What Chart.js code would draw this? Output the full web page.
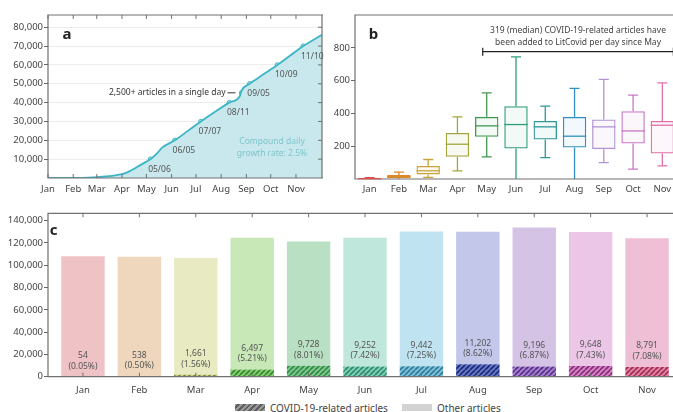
<!DOCTYPE html>
<html>
<head>
<meta charset="utf-8">
<script src="https://cdn.jsdelivr.net/npm/chart.js@4.4.1/dist/chart.umd.min.js"></script>
<style>
  html, body { margin: 0; padding: 0; background: #fff; }
  body { position: relative; width: 673px; height: 412px; overflow: hidden; font-family: 'Noto Sans', sans-serif; }
  canvas { position: absolute; }
  #graf1 { left: 0; top: 0; }
  #graf2 { left: 330px; top: 0; }
  #graf3 { left: 0; top: 200px; }
  .leg { position: absolute; top: 402px; font-size: 10px; color: #444; line-height: 12px; }
  .sw { position: absolute; top: 404px; width: 30px; height: 7px; }
</style>
</head>
<body>
<canvas id="graf1" width="330" height="200"></canvas>
<canvas id="graf2" width="347" height="200"></canvas>
<canvas id="graf3" width="673" height="200"></canvas>
<div class="sw" style="left:235px; background: repeating-linear-gradient(135deg, #9a9a9a 0 2px, #5e5e5e 2px 4px);"></div>
<div class="leg" style="left:270px;">COVID-19-related articles</div>
<div class="sw" style="left:402px; background:#d3d3d3;"></div>
<div class="leg" style="left:437px;">Other articles</div>

<script>
const MESES = ['Jan', 'Feb', 'Mar', 'Apr', 'May', 'Jun', 'Jul', 'Aug', 'Sep', 'Oct', 'Nov'];

// painel a - total acumulado (dia do ano 2020)
const INICIO_MES = [0, 31, 60, 91, 121, 152, 182, 213, 244, 274, 305];
const DIAS = [0, 31, 50, 60, 75, 91, 100, 110, 121, 126, 135, 140, 156, 172, 188, 205, 223, 236, 238, 248, 265, 282, 298, 314, 337];
const TOTAL = [0, 50, 200, 400, 1000, 2000, 3500, 6000, 8700, 10000, 13500, 16000, 20000, 25000, 30000, 35000, 40000, 43500, 46300, 50000, 55000, 60000, 65000, 70000, 76000];
const MARCO_DIAS = [126, 156, 188, 223, 238, 248, 282, 314];
const MARCO_TOTAL = [10000, 20000, 30000, 40000, 45200, 50000, 60000, 70000];
const MARCO_TXT = ['05/06', '06/05', '07/07', '08/11', '', '09/05', '10/09', '11/10'];
const TICKS_A = [10000, 20000, 30000, 40000, 50000, 60000, 70000, 80000];

// painel b - artigos por dia
const B_MIN = [0, 0, 10, 50, 135, 0, 130, 0, 100, 60, 80];
const B_Q1 = [1, 6, 28, 136, 257, 186, 241, 192, 182, 216, 155];
const B_MED = [2, 15, 50, 212, 324, 332, 318, 261, 318, 293, 328];
const B_Q3 = [4, 24, 80, 281, 379, 444, 354, 379, 363, 413, 354];
const B_MAX = [8, 42, 119, 379, 525, 745, 444, 552, 607, 511, 586];
const TICKS_B = [200, 400, 600, 800];
const COR_B = ['#d9534f', '#d98a2b', '#c9a33a', '#a4a63a', '#3f9a50', '#2f9e78', '#2f9898', '#3190c0', '#b294d2', '#c878c6', '#e070a8'];

// painel c - artigos por mes
const COVID = [54, 538, 1661, 6497, 9728, 9252, 9442, 11202, 9196, 9648, 8791];
const TOTAL_MES = [108000, 107600, 106500, 124700, 121400, 124700, 130200, 130000, 133900, 129900, 124200];
const PCT = ['(0.05%)', '(0.50%)', '(1.56%)', '(5.21%)', '(8.01%)', '(7.42%)', '(7.25%)', '(8.62%)', '(6.87%)', '(7.43%)', '(7.08%)'];
const TICKS_C = [0, 20000, 40000, 60000, 80000, 100000, 120000, 140000];
const COR_C = ['#efc2c6', '#eed7bc', '#e8ebc2', '#c8e8b8', '#bae0c3', '#c0e7db', '#c0e3f1', '#c3c7ea', '#d5c3e6', '#ecc6e6', '#efbfd5'];
const LISTRA_FUNDO = ['#e0a0a8', '#d8b080', '#c8cc80', '#8ccc70', '#80c890', '#80d0b8', '#80c0d8', '#6878c4', '#a484cc', '#d484c4', '#e284a6'];
const LISTRA_COR = ['#b04050', '#8a5a20', '#707a20', '#2f8a2f', '#2f8a45', '#2a8a6a', '#2a7a9a', '#1a2a7a', '#5a2a8a', '#8a2a7a', '#a02a50'];

const OUTROS = TOTAL_MES.map((t, i) => t - COVID[i]);

Chart.defaults.font.family = "'Noto Sans', sans-serif";
Chart.defaults.font.size = 9.5;
Chart.defaults.color = '#444';
Chart.defaults.devicePixelRatio = 1;

const moldura = {
  id: 'moldura',
  afterDatasetsDraw(chart, args, o) {
    const { ctx, chartArea: a, scales } = chart;
    ctx.save();
    ctx.strokeStyle = '#707070';
    ctx.lineWidth = 1.2;
    ctx.beginPath();
    ctx.moveTo(a.right + 1, a.top); ctx.lineTo(a.left, a.top);
    ctx.lineTo(a.left, a.bottom); ctx.lineTo(a.right + 1, a.bottom);
    if (o.direita) { ctx.moveTo(a.right, a.top); ctx.lineTo(a.right, a.bottom); }
    ctx.stroke();
    ctx.lineWidth = 1;
    ctx.beginPath();
    scales.x.ticks.forEach(t => {
      const px = scales.x.getPixelForValue(t.value);
      if (o.xTopo) { ctx.moveTo(px, a.top); ctx.lineTo(px, a.top + 4); }
      if (o.xBase) { ctx.moveTo(px, a.bottom); ctx.lineTo(px, a.bottom - 4); }
    });
    if (o.yDireita) {
      scales.y.ticks.forEach(t => {
        const py = scales.y.getPixelForValue(t.value);
        ctx.moveTo(a.right, py); ctx.lineTo(a.right - 4, py);
      });
    }
    ctx.stroke();
    ctx.restore();
  }
};

// ---------- painel a ----------
const notasA = {
  id: 'notasA',
  afterDatasetsDraw(chart) {
    const { ctx, scales: { x, y } } = chart;
    ctx.save();
    ctx.textAlign = 'center';
    ctx.textBaseline = 'middle';
    ctx.fillStyle = '#555';
    ctx.font = "8.5px 'Noto Sans', sans-serif";
    MARCO_TXT.forEach((t, i) => {
      if (!t) return;
      ctx.fillText(t, x.getPixelForValue(MARCO_DIAS[i]) + 9, y.getPixelForValue(MARCO_TOTAL[i]) + 10);
    });
    const sx = x.getPixelForValue(MARCO_DIAS[4]);
    const sy = y.getPixelForValue(MARCO_TOTAL[4]);
    ctx.textAlign = 'right';
    ctx.fillStyle = '#333';
    ctx.fillText('2,500+ articles in a single day', sx - 16, sy);
    ctx.strokeStyle = '#333';
    ctx.lineWidth = 1;
    ctx.beginPath(); ctx.moveTo(sx - 14, sy); ctx.lineTo(sx - 6, sy); ctx.stroke();
    ctx.textAlign = 'center';
    ctx.fillStyle = '#7fc6ce';
    ctx.fillText('Compound daily', 272, 142);
    ctx.fillText('growth rate: 2.5%', 272, 154);
    ctx.fillStyle = '#222';
    ctx.font = "bold 15px 'Noto Sans', sans-serif";
    ctx.fillText('a', 67, 35);
    ctx.restore();
  }
};

new Chart(document.getElementById('graf1'), {
  type: 'line',
  data: {
    datasets: [{
      data: DIAS.map((d, i) => ({ x: d, y: TOTAL[i] })),
      borderColor: '#3bb5c4',
      backgroundColor: '#c8e8ee',
      borderWidth: 1.8,
      fill: 'origin',
      pointRadius: 0,
      cubicInterpolationMode: 'monotone'
    }, {
      data: MARCO_DIAS.map((d, i) => ({ x: d, y: MARCO_TOTAL[i] })),
      showLine: false,
      pointRadius: 2.2,
      pointBorderWidth: 1,
      borderColor: '#3bb5c4',
      backgroundColor: '#c8e8ee'
    }]
  },
  options: {
    responsive: false,
    animation: false,
    layout: { padding: { top: 15, right: 8, left: 0, bottom: 0 } },
    plugins: { legend: { display: false }, tooltip: { enabled: false }, moldura: { direita: true, xTopo: true, xBase: true, yDireita: true } },
    scales: {
      x: {
        type: 'linear', min: 0, max: 337, offset: false,
        afterBuildTicks: s => { s.ticks = INICIO_MES.map(v => ({ value: v })); },
        afterFit: s => { s.height = 22; },
        ticks: { callback: (v, i) => MESES[i], autoSkip: false, maxRotation: 0, padding: 6 },
        grid: { display: false, drawTicks: false },
        border: { display: false }
      },
      y: {
        min: 0, max: 86500,
        afterBuildTicks: s => { s.ticks = TICKS_A.map(v => ({ value: v })); },
        afterFit: s => { s.width = 48; },
        ticks: { callback: v => v.toLocaleString('en-US'), padding: 1 },
        grid: { color: '#ececec', tickColor: '#666', tickLength: 4 },
        border: { display: false }
      }
    }
  },
  plugins: [moldura, notasA]
});

// ---------- painel b ----------
const caixas = {
  id: 'caixas',
  beforeDatasetsDraw(chart) {
    const { ctx, scales: { y } } = chart;
    const meta = chart.getDatasetMeta(0);
    ctx.save();
    ctx.lineWidth = 1.3;
    meta.data.forEach((el, i) => {
      ctx.strokeStyle = COR_B[i];
      const yMin = y.getPixelForValue(B_MIN[i]), yMax = y.getPixelForValue(B_MAX[i]);
      ctx.beginPath();
      ctx.moveTo(el.x, yMax); ctx.lineTo(el.x, y.getPixelForValue(B_Q3[i]));
      ctx.moveTo(el.x, y.getPixelForValue(B_Q1[i])); ctx.lineTo(el.x, yMin);
      ctx.moveTo(el.x - 5, yMax); ctx.lineTo(el.x + 5, yMax);
      if (B_MIN[i] > 0) { ctx.moveTo(el.x - 5, yMin); ctx.lineTo(el.x + 5, yMin); }
      ctx.stroke();
    });
    ctx.restore();
  },
  afterDatasetsDraw(chart) {
    const { ctx, scales: { x, y } } = chart;
    const meta = chart.getDatasetMeta(0);
    ctx.save();
    ctx.lineWidth = 1.3;
    meta.data.forEach((el, i) => {
      const py = y.getPixelForValue(B_MED[i]);
      ctx.strokeStyle = COR_B[i];
      ctx.beginPath(); ctx.moveTo(el.x - el.width / 2, py); ctx.lineTo(el.x + el.width / 2, py); ctx.stroke();
    });
    const x0 = x.getPixelForValue(4) - 4, x1 = x.getPixelForValue(10) + 11, yb = 51.7;
    ctx.strokeStyle = '#222';
    ctx.lineWidth = 1.2;
    ctx.beginPath();
    ctx.moveTo(x0, yb); ctx.lineTo(x1, yb);
    ctx.moveTo(x0, yb - 4); ctx.lineTo(x0, yb + 4);
    ctx.moveTo(x1, yb - 4); ctx.lineTo(x1, yb + 4);
    ctx.stroke();
    ctx.fillStyle = '#444';
    ctx.font = "8.5px 'Noto Sans', sans-serif";
    ctx.textAlign = 'center';
    ctx.textBaseline = 'middle';
    ctx.fillText('319 (median) COVID-19-related articles have', (x0 + x1) / 2, 31);
    ctx.fillText('been added to LitCovid per day since May', (x0 + x1) / 2, 42.5);
    ctx.fillStyle = '#222';
    ctx.font = "bold 15px 'Noto Sans', sans-serif";
    ctx.fillText('b', 43.5, 35);
    ctx.restore();
  }
};

new Chart(document.getElementById('graf2'), {
  type: 'bar',
  data: {
    labels: MESES,
    datasets: [{
      data: B_Q1.map((q, i) => [q, B_Q3[i]]),
      backgroundColor: COR_B.map(c => c + '10'),
      borderColor: COR_B,
      borderWidth: 1.3,
      borderSkipped: false,
      barPercentage: 0.8,
      categoryPercentage: 1
    }]
  },
  options: {
    responsive: false,
    animation: false,
    layout: { padding: { top: 15, right: 0, left: 0, bottom: 0 } },
    plugins: { legend: { display: false }, tooltip: { enabled: false }, moldura: {} },
    scales: {
      x: {
        afterFit: s => { s.height = 21; },
        ticks: { autoSkip: false, maxRotation: 0, padding: 5 },
        grid: { display: false, drawTicks: false },
        border: { display: false }
      },
      y: {
        min: 0, max: 1000,
        afterBuildTicks: s => { s.ticks = TICKS_B.map(v => ({ value: v })); },
        afterFit: s => { s.width = 25; },
        ticks: { padding: 1 },
        grid: { drawOnChartArea: false, tickColor: '#666', tickLength: 4 },
        border: { display: false }
      }
    }
  },
  plugins: [moldura, caixas]
});

// ---------- painel c ----------
function listras(fundo, cor) {
  const c = document.createElement('canvas');
  c.width = 5; c.height = 5;
  const g = c.getContext('2d');
  g.fillStyle = fundo;
  g.fillRect(0, 0, 5, 5);
  g.strokeStyle = cor;
  g.lineWidth = 1.6;
  g.beginPath();
  for (let k = -5; k <= 5; k += 5) { g.moveTo(k, 5); g.lineTo(k + 5, 0); }
  g.stroke();
  return g.createPattern(c, 'repeat');
}

const rotulosC = {
  id: 'rotulosC',
  afterDatasetsDraw(chart) {
    const { ctx } = chart;
    const meta = chart.getDatasetMeta(0);
    ctx.save();
    ctx.fillStyle = '#555';
    ctx.font = "8.5px 'Noto Sans', sans-serif";
    ctx.textAlign = 'center';
    ctx.textBaseline = 'middle';
    meta.data.forEach((el, i) => {
      ctx.fillText(COVID[i].toLocaleString('en-US'), el.x, el.y - 21);
      ctx.fillText(PCT[i], el.x, el.y - 10.5);
    });
    ctx.fillStyle = '#222';
    ctx.font = "bold 15px 'Noto Sans', sans-serif";
    ctx.fillText('c', 53.5, 31);
    ctx.restore();
  }
};

new Chart(document.getElementById('graf3'), {
  type: 'bar',
  data: {
    datasets: [{
      label: 'COVID-19-related articles',
      data: COVID.map((v, i) => ({ x: i, y: v })),
      backgroundColor: LISTRA_FUNDO.map((f, i) => listras(f, LISTRA_COR[i])),
      barPercentage: 0.77,
      categoryPercentage: 1
    }, {
      label: 'Other articles',
      data: OUTROS.map((v, i) => ({ x: i, y: v })),
      backgroundColor: COR_C,
      barPercentage: 0.77,
      categoryPercentage: 1
    }]
  },
  options: {
    responsive: false,
    animation: false,
    layout: { padding: { top: 13.3, right: 0, left: 0, bottom: 0 } },
    plugins: { legend: { display: false }, tooltip: { enabled: false }, moldura: { xTopo: true, xBase: true } },
    scales: {
      x: {
        type: 'linear', min: -0.62, max: 10.46, offset: false, stacked: true,
        afterBuildTicks: s => { s.ticks = MESES.map((m, i) => ({ value: i })); },
        afterFit: s => { s.height = 23.3; },
        ticks: { callback: (v, i) => MESES[i], autoSkip: false, maxRotation: 0, padding: 8 },
        grid: { display: false, drawTicks: false },
        border: { display: false }
      },
      y: {
        stacked: true, min: 0, max: 146600,
        afterBuildTicks: s => { s.ticks = TICKS_C.map(v => ({ value: v })); },
        afterFit: s => { s.width = 48; },
        ticks: { callback: v => v.toLocaleString('en-US'), padding: 1 },
        grid: { drawOnChartArea: false, tickColor: '#666', tickLength: 4 },
        border: { display: false }
      }
    }
  },
  plugins: [moldura, rotulosC]
});
</script>
</body>
</html>
